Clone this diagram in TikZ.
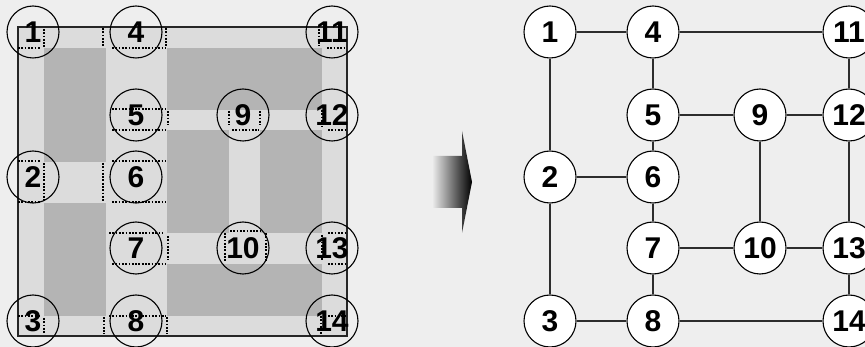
\documentclass[tikz,border=0pt]{standalone}
\usepackage{fontspec}
\setmainfont{Liberation Sans}
\usepackage{tikz}
\usetikzlibrary{positioning}
\definecolor{bggray}{RGB}{238,238,238}
\definecolor{lightcell}{RGB}{220,220,220}
\definecolor{darkcell}{RGB}{180,180,180}
\definecolor{edgegray}{RGB}{45,45,45}

\begin{document}
\begin{tikzpicture}[x=1pt, y=-1pt,
    every node/.style={font=\fontsize{30}{30}\selectfont\bfseries},
    region/.style={circle, draw=black, line width=1.1pt, minimum size=52pt, inner sep=0pt},
    vertex/.style={region, fill=white},
    link/.style={draw=edgegray, line width=1.1pt},
    border/.style={black, line width=2pt, dash pattern=on 1.8pt off 1.5pt}]
            \useasboundingbox (0,0) rectangle (865,347);
            \fill[bggray] (0,0) rectangle (865,347);

            % Floor plan
            \draw[line width=1.1pt, draw=black!85, fill=lightcell] (18,27) rectangle (347,336);
            \fill[darkcell] (44,48) rectangle (106,162);
            \fill[darkcell] (44,203) rectangle (106,316);
            \fill[darkcell] (167,48) rectangle (322,110);
            \fill[darkcell] (167,130) rectangle (229,233);
            \fill[darkcell] (260,130) rectangle (322,233);
            \fill[darkcell] (167,264) rectangle (322,316);

            % Region borders
            \draw[border] (18,48) -- (40,48) (44,29) -- (44,48);
            \draw[border] (103,28) -- (103,46) (112,48) -- (166,48) (166,28) -- (166,46);
            \draw[border] (112,109) -- (166,109) (112,130) -- (166,130) (168,111) -- (168,125);
            \draw[border] (112,161) -- (166,161) (103,163) -- (103,202) (112,202) -- (166,202);
            \draw[border] (18,161) -- (40,161) (44,163) -- (44,202) (18,202) -- (40,202);
            \draw[border] (109,233) -- (163,233) (112,264) -- (166,264) (168,236) -- (168,260);
            \draw[border] (18,316) -- (40,316) (44,318) -- (44,334);
            \draw[border] (104,317) -- (104,334) (109,316) -- (166,316) (167,317) -- (167,334);
            \draw[border] (319,29) -- (319,46) (327,48) -- (346,48);
            \draw[border] (229,111) -- (229,125) (260,111) -- (260,125) (232,130) -- (259,130);
            \draw[border] (322,110) -- (322,127) (328,130) -- (346,130);
            \draw[border] (230,231) -- (260,231) (225,233) -- (225,261) (266,233) -- (266,261);
            \draw[border] (322,235) -- (322,261) (328,233) -- (346,233) (328,264) -- (346,264);
            \draw[border] (321,316) -- (321,334) (328,316) -- (346,316);

            % Region labels
            \node[region] (l1) at (33,32) {1};
            \node[region] (l4) at (136,32) {4};
            \node[region] (l11) at (332,32) {11};
            \node[region] (l5) at (136,115) {5};
            \node[region] (l9) at (243,115) {9};
            \node[region] (l12) at (332,115) {12};
            \node[region] (l2) at (33,177) {2};
            \node[region] (l6) at (136,177) {6};
            \node[region] (l7) at (136,248) {7};
            \node[region] (l10) at (243,248) {10};
            \node[region] (l13) at (332,248) {13};
            \node[region] (l3) at (33,321) {3};
            \node[region] (l8) at (136,321) {8};
            \node[region] (l14) at (332,321) {14};

            % Arrow
            \shade[left color=bggray, right color=black] (432,156) -- (462,156) -- (462,131) -- (472,182) -- (462,233) -- (462,208) -- (432,208) -- cycle;

            % Graph
            \node[vertex] (n1) at (550,32) {1};
            \node[vertex] (n4) at (653,32) {4};
            \node[vertex] (n11) at (849,32) {11};
            \node[vertex] (n5) at (653,115) {5};
            \node[vertex] (n9) at (760,115) {9};
            \node[vertex] (n12) at (849,115) {12};
            \node[vertex] (n2) at (550,177) {2};
            \node[vertex] (n6) at (653,177) {6};
            \node[vertex] (n7) at (653,248) {7};
            \node[vertex] (n10) at (760,248) {10};
            \node[vertex] (n13) at (849,248) {13};
            \node[vertex] (n3) at (550,321) {3};
            \node[vertex] (n8) at (653,321) {8};
            \node[vertex] (n14) at (849,321) {14};

            \draw[link] (n1) -- (n4);
            \draw[link] (n4) -- (n11);
            \draw[link] (n1) -- (n2);
            \draw[link] (n2) -- (n3);
            \draw[link] (n4) -- (n5);
            \draw[link] (n5) -- (n6);
            \draw[link] (n2) -- (n6);
            \draw[link] (n6) -- (n7);
            \draw[link] (n7) -- (n8);
            \draw[link] (n3) -- (n8);
            \draw[link] (n8) -- (n14);
            \draw[link] (n5) -- (n9);
            \draw[link] (n9) -- (n12);
            \draw[link] (n11) -- (n12);
            \draw[link] (n12) -- (n13);
            \draw[link] (n9) -- (n10);
            \draw[link] (n7) -- (n10);
            \draw[link] (n10) -- (n13);
            \draw[link] (n13) -- (n14);
        \end{tikzpicture}
\end{document}
